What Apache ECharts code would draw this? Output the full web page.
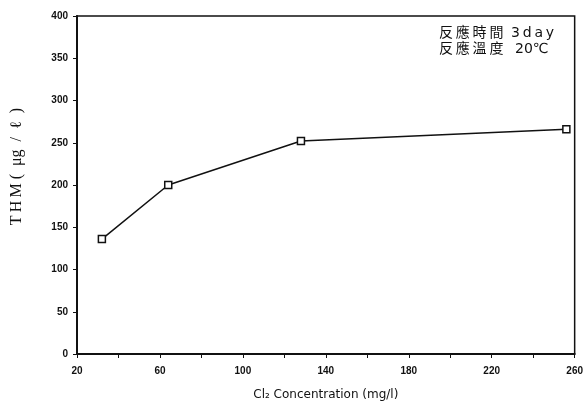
<!DOCTYPE html>
<html><head><meta charset="utf-8">
<script src="https://cdn.jsdelivr.net/npm/echarts@6/dist/echarts.min.js"></script>
<style>html,body{margin:0;padding:0;background:#fff}#c{width:586px;height:406px}</style>
</head><body><div id="c"></div>
<script>
const concentrations = [32, 64, 128, 256];
const thmValues = [136, 200, 252, 266];
const xTickLabels = [20, 60, 100, 140, 180, 220, 260];
const yTickLabels = [0, 50, 100, 150, 200, 250, 300, 350, 400];
const noteLabels = ['反應時間', '反應溫度'];
const noteValues = ['3day', '20℃'];

const chart = echarts.init(document.getElementById('c'));
const labelFont = {color:'#111', fontFamily:'Liberation Sans, Arial, sans-serif', fontWeight:'bold', fontSize:10};
const cjkFont = '14px "Noto Sans CJK TC", sans-serif';
const latFont = '14px "DejaVu Sans", sans-serif';
const spaced = s => Array.from(s).join('\u2009');
chart.setOption({
  animation:false,
  backgroundColor:'#fff',
  grid:{left:77, right:10, top:16, bottom:50, show:true, borderColor:'#111', borderWidth:1.5, backgroundColor:'transparent'},
  xAxis:{type:'value', min:xTickLabels[0], max:xTickLabels[xTickLabels.length-1], interval:20,
    name:'Cl₂ Concentration (mg/l)', nameLocation:'middle', nameGap:35,
    nameTextStyle:{color:'#111', fontFamily:'DejaVu Sans, sans-serif', fontSize:12},
    axisLine:{lineStyle:{color:'#111', width:2}},
    axisTick:{show:true, length:4, lineStyle:{color:'#111', width:1}},
    splitLine:{show:false},
    axisLabel:Object.assign({margin:12, formatter:v => xTickLabels.includes(v) ? String(v) : ''}, labelFont)
  },
  yAxis:{type:'value', min:yTickLabels[0], max:yTickLabels[yTickLabels.length-1], interval:50,
    axisLine:{show:true, lineStyle:{color:'#111', width:2}},
    axisTick:{show:true, length:4, lineStyle:{color:'#111', width:1}},
    splitLine:{show:false},
    axisLabel:Object.assign({margin:9, formatter:v => yTickLabels.includes(v) ? String(v) : ''}, labelFont)
  },
  graphic:[
    {type:'text', left:9, top:108, rotation:Math.PI/2, style:{text:'T\u2009H\u2009M (  μg  /  ℓ  )', fill:'#111', font:'16px "Liberation Serif", serif'}},
    {type:'text', left:439, top:25, style:{text:spaced(noteLabels[0]), fill:'#111', font:cjkFont}},
    {type:'text', left:511, top:26, style:{text:spaced(noteValues[0]), fill:'#111', font:latFont}},
    {type:'text', left:439, top:41, style:{text:spaced(noteLabels[1]), fill:'#111', font:cjkFont}},
    {type:'text', left:515, top:42, style:{text:noteValues[1], fill:'#111', font:latFont}}
  ],
  series:[{type:'line', data:concentrations.map((c,i)=>[c, thmValues[i]]),
    symbol:'rect', symbolSize:7, showSymbol:true,
    itemStyle:{color:'#fff', borderColor:'#111', borderWidth:1.5},
    lineStyle:{color:'#111', width:1.5}}]
});
</script></body></html>
